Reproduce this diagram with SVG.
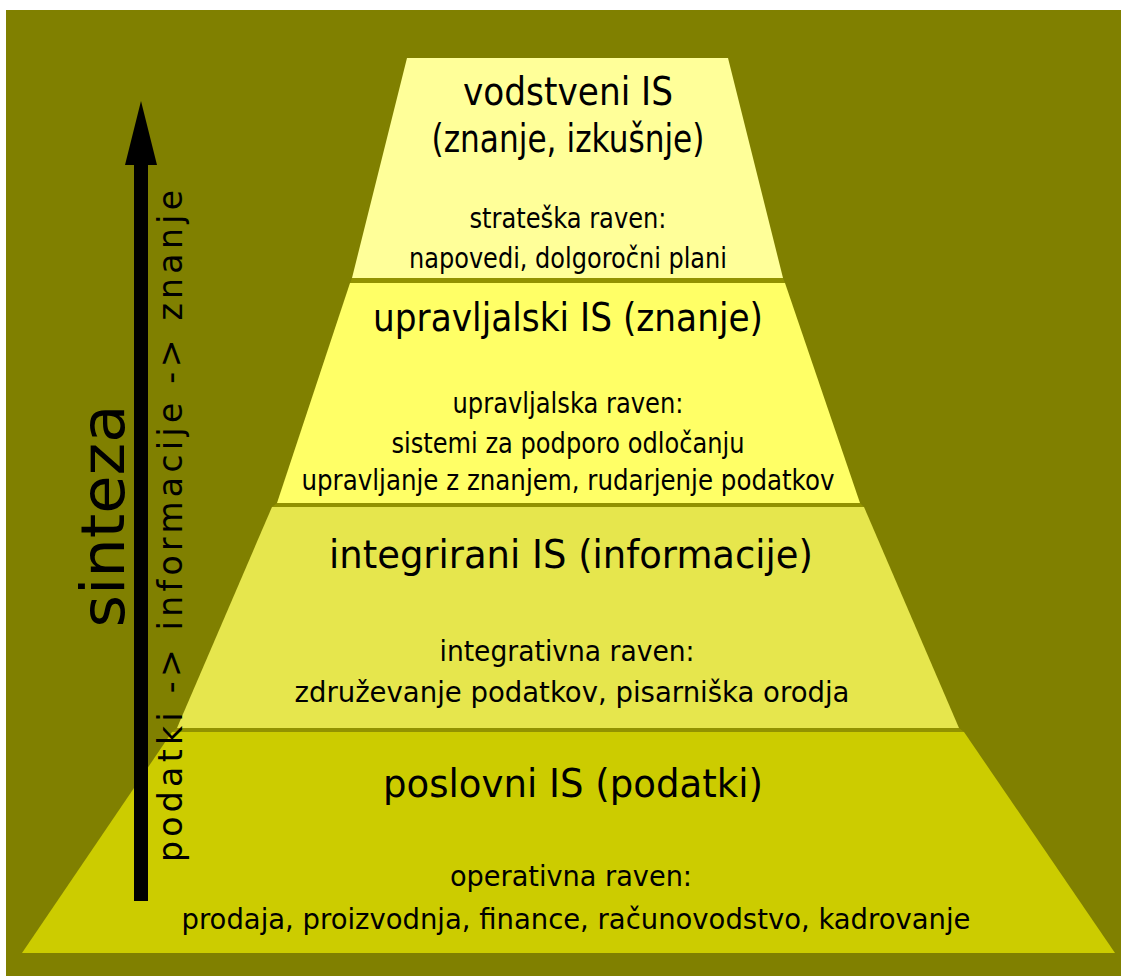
<svg xmlns="http://www.w3.org/2000/svg" width="1121" height="976" viewBox="0 0 1121 976">
<style>
.t{font-family:"DejaVu Sans",Verdana,"Liberation Sans",sans-serif;fill:#000;text-anchor:middle}
.big{font-size:39px}
.sm{font-size:29px}
</style>
<rect x="0" y="0" width="1121" height="976" fill="#ffffff"/>
<rect x="6" y="10" width="1115" height="966" fill="#808000"/>
<g id="stripes" fill="#929200">
<polygon points="352,278 783,278 785,283 350,283"/>
<polygon points="277,503 860,503 864,507 272,507"/>
<polygon points="177,728 959,728 964,732 172,732"/>
</g>
<g id="level-strateska">
<polygon points="407,58 728,58 783,278 352,278" fill="#ffff99"/>
<text class="t big" x="568" y="105" textLength="210" lengthAdjust="spacingAndGlyphs">vodstveni IS</text>
<text class="t big" x="568" y="152" textLength="273" lengthAdjust="spacingAndGlyphs">(znanje, izkušnje)</text>
<text class="t sm" x="568" y="228" textLength="197" lengthAdjust="spacingAndGlyphs">strateška raven:</text>
<text class="t sm" x="568" y="268" textLength="318" lengthAdjust="spacingAndGlyphs">napovedi, dolgoročni plani</text>
</g>
<g id="level-upravljalska">
<polygon points="350,283 785,283 860,503 277,503" fill="#ffff66"/>
<text class="t big" x="568" y="331" textLength="390" lengthAdjust="spacingAndGlyphs">upravljalski IS (znanje)</text>
<text class="t sm" x="568" y="413" textLength="231" lengthAdjust="spacingAndGlyphs">upravljalska raven:</text>
<text class="t sm" x="568" y="453" textLength="353" lengthAdjust="spacingAndGlyphs">sistemi za podporo odločanju</text>
<text class="t sm" x="568" y="490" textLength="533" lengthAdjust="spacingAndGlyphs">upravljanje z znanjem, rudarjenje podatkov</text>
</g>
<g id="level-integrativna">
<polygon points="272,507 864,507 959,728 177,728" fill="#e6e64d"/>
<text class="t big" x="571" y="568" textLength="484" lengthAdjust="spacingAndGlyphs">integrirani IS (informacije)</text>
<text class="t sm" x="567" y="661" textLength="255" lengthAdjust="spacingAndGlyphs">integrativna raven:</text>
<text class="t sm" x="572" y="702" textLength="555" lengthAdjust="spacingAndGlyphs">združevanje podatkov, pisarniška orodja</text>
</g>
<g id="level-operativna">
<polygon points="172,732 964,732 1115,953 22,953" fill="#cccc00"/>
<text class="t big" x="573" y="797" textLength="380" lengthAdjust="spacingAndGlyphs">poslovni IS (podatki)</text>
<text class="t sm" x="571" y="886" textLength="242" lengthAdjust="spacingAndGlyphs">operativna raven:</text>
<text class="t sm" x="576" y="929" textLength="789" lengthAdjust="spacingAndGlyphs">prodaja, proizvodnja, finance, računovodstvo, kadrovanje</text>
</g>
<g id="connectors">
<rect x="134" y="164" width="14" height="737" fill="#000"/>
<polygon points="141,101 157,165 125,165" fill="#000"/>
</g>
<g id="labels">
<text class="t" font-size="60" transform="translate(124,516) rotate(-90)" textLength="223" lengthAdjust="spacingAndGlyphs">sinteza</text>
<text class="t" font-size="33" transform="translate(182,526) rotate(-90)" textLength="672" lengthAdjust="spacing">podatki -&gt; informacije -&gt; znanje</text>
</g>
</svg>
